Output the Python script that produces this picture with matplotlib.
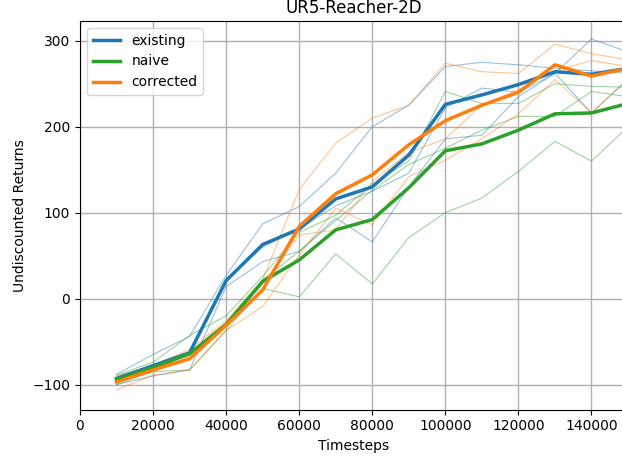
import matplotlib

matplotlib.use("Agg")
import matplotlib.pyplot as plt

timesteps = [10000, 20000, 30000, 40000, 50000, 60000, 70000, 80000,
             90000, 100000, 110000, 120000, 130000, 140000, 150000]

# mean curves (thick)
existing_mean = [-93, -78, -63, 21, 63, 81, 116, 130, 167, 226, 237, 249, 264, 261, 268]
naive_mean = [-94, -80, -64, -30, 20, 45, 80, 92, 129, 172, 180, 196, 215, 216, 227]
corrected_mean = [-97, -83, -70, -31, 10, 84, 122, 144, 179, 207, 225, 240, 272, 259, 268]

# individual seeds (thin)
existing_seeds = [
    [-88, -65, -44, 27, 87, 107, 146, 200, 225, 270, 275, 272, 268, 265, 262],
    [-91, -78, -62, 22, 60, 81, 108, 125, 146, 222, 245, 240, 262, 302, 287],
    [-100, -90, -83, 14, 43, 55, 94, 66, 130, 186, 190, 235, 262, 216, 255],
]
naive_seeds = [
    [-89, -74, -43, -20, 26, 77, 97, 133, 160, 241, 227, 227, 250, 247, 246],
    [-94, -81, -66, -33, 22, 55, 91, 126, 156, 175, 196, 212, 212, 241, 235],
    [-100, -85, -83, -37, 12, 2, 52, 17, 71, 100, 117, 148, 183, 160, 200],
]
corrected_seeds = [
    [-90, -78, -59, -26, 22, 127, 181, 210, 225, 274, 264, 262, 296, 285, 278],
    [-95, -82, -68, -30, 17, 74, 80, 136, 170, 186, 225, 243, 265, 277, 270],
    [-106, -89, -83, -37, -9, 51, 105, 86, 142, 161, 186, 215, 255, 216, 256],
]

COLORS = {"existing": "#1f77b4", "naive": "#2ca02c", "corrected": "#ff7f0e"}

fig = plt.figure(figsize=(6.22, 4.59), dpi=100)
ax = fig.add_axes([80 / 622, 49.5 / 459, 548 / 622, 388.5 / 459])

runs = [
    ("existing", existing_seeds, existing_mean),
    ("naive", naive_seeds, naive_mean),
    ("corrected", corrected_seeds, corrected_mean),
]
for name, seeds, _ in runs:
    for s in seeds:
        ax.plot(timesteps, s, color=COLORS[name], linewidth=0.8, alpha=0.45)
for name, _, mean in runs:
    ax.plot(timesteps, mean, color=COLORS[name], linewidth=2.5, label=name)

ax.set_xlim(0, 150000)
ax.set_ylim(-129, 323)
ax.set_xticks(range(0, 150001, 20000))
ax.set_yticks([-100, 0, 100, 200, 300])
ax.set_title("UR5-Reacher-2D")
ax.set_xlabel("Timesteps")
ax.set_ylabel("Undiscounted Returns")
ax.grid(True, color="#b0b0b0", linewidth=1.0)
ax.legend(loc="upper left")

fig.savefig("out.png", dpi=100)
